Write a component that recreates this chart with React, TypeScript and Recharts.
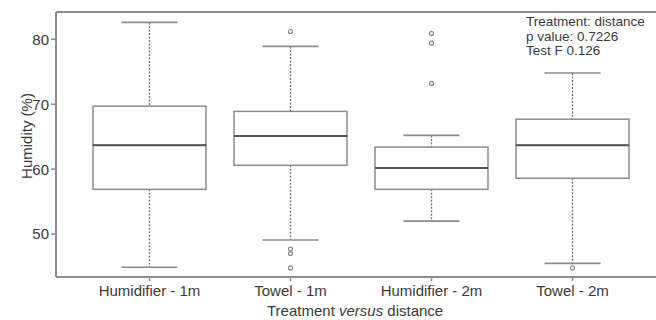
import React from "react";
import { ComposedChart, Bar, Scatter, XAxis, YAxis, ReferenceLine } from "recharts";

const categories = ["Humidifier - 1m", "Towel - 1m", "Humidifier - 2m", "Towel - 2m"];
const lowerWhisker = [44.9, 49.1, 52.0, 45.5];
const q1 = [56.9, 60.6, 56.9, 58.6];
const median = [63.7, 65.1, 60.2, 63.7];
const q3 = [69.7, 68.9, 63.4, 67.7];
const upperWhisker = [82.6, 78.9, 65.2, 74.8];
// outliers per category (up to four each)
const outliers1 = [null, 81.2, 80.9, 44.8];
const outliers2 = [null, 47.7, 79.4, null];
const outliers3 = [null, 47.0, 73.2, null];
const outliers4 = [null, 44.8, null, null];
const yTicks = [50, 60, 70, 80];
const yMin = 43.4;
const yMax = 84.2;

const FONT = "'Liberation Sans', Arial, sans-serif";
const LINE = "#8c8c8c";
const TEXT = "#3a3a3a";

const rows = categories.map((name, i) => ({
  name,
  base: lowerWhisker[i],
  lowW: q1[i] - lowerWhisker[i],
  boxLo: median[i] - q1[i],
  boxHi: q3[i] - median[i],
  highW: upperWhisker[i] - q3[i],
  o1: outliers1[i],
  o2: outliers2[i],
  o3: outliers3[i],
  o4: outliers4[i],
}));

const LowWhisker = (p: any) => {
  const cx = p.x + p.width / 2;
  const bottom = p.y + p.height;
  return (
    <g>
      <line x1={cx} x2={cx} y1={p.y} y2={bottom} stroke="#707070" strokeWidth={1.3} strokeDasharray="2 1.5" />
      <line x1={cx - 28} x2={cx + 28} y1={bottom} y2={bottom} stroke={LINE} strokeWidth={1.6} />
    </g>
  );
};

const HighWhisker = (p: any) => {
  const cx = p.x + p.width / 2;
  return (
    <g>
      <line x1={cx} x2={cx} y1={p.y} y2={p.y + p.height} stroke="#707070" strokeWidth={1.3} strokeDasharray="2 1.5" />
      <line x1={cx - 28} x2={cx + 28} y1={p.y} y2={p.y} stroke={LINE} strokeWidth={1.6} />
    </g>
  );
};

const BoxLower = (p: any) => (
  <rect x={p.x} y={p.y} width={p.width} height={p.height} fill="#fff" stroke={LINE} strokeWidth={1.5} />
);

const BoxUpper = (p: any) => (
  <g>
    <rect x={p.x} y={p.y} width={p.width} height={p.height} fill="#fff" stroke={LINE} strokeWidth={1.5} />
    <line x1={p.x} x2={p.x + p.width} y1={p.y + p.height} y2={p.y + p.height} stroke="#555" strokeWidth={2} />
  </g>
);

const Outlier = (p: any) => {
  if (!Number.isFinite(p.cx) || !Number.isFinite(p.cy)) return <g />;
  return <circle cx={p.cx} cy={p.cy} r={2} fill="#fff" stroke="#888" strokeWidth={1.2} />;
};

export default function App() {
  return (
    <div style={{ position: "absolute", left: 0, top: 0, width: 656, height: 320, overflow: "hidden", background: "#fff", fontFamily: FONT }}>
      <ComposedChart
        width={672}
        height={320}
        data={rows}
        margin={{ top: 12, right: 6, bottom: 0, left: 0 }}
        barCategoryGap={0}
      >
        <XAxis
          dataKey="name"
          padding={{ left: 23, right: 23 }}
          height={43}
          tickSize={4}
          tickLine={{ stroke: LINE, strokeWidth: 1.5 }}
          axisLine={{ stroke: LINE, strokeWidth: 2 }}
          tick={{ fill: TEXT, fontSize: 15, fontFamily: FONT }}
          tickMargin={4}
          interval={0}
        />
        <YAxis
          width={56}
          type="number"
          domain={[yMin, yMax]}
          allowDataOverflow
          ticks={yTicks}
          tickSize={5}
          tickLine={{ stroke: LINE, strokeWidth: 1.5 }}
          axisLine={{ stroke: LINE, strokeWidth: 2 }}
          tick={{ fill: TEXT, fontSize: 15, fontFamily: FONT }}
          tickMargin={2}
        />
        <ReferenceLine y={yMax} stroke={LINE} strokeWidth={2} ifOverflow="visible" />
        <Bar dataKey="base" stackId="b" fill="none" barSize={113} isAnimationActive={false} />
        <Bar dataKey="lowW" stackId="b" shape={LowWhisker} barSize={113} isAnimationActive={false} />
        <Bar dataKey="boxLo" stackId="b" shape={BoxLower} barSize={113} isAnimationActive={false} />
        <Bar dataKey="boxHi" stackId="b" shape={BoxUpper} barSize={113} isAnimationActive={false} />
        <Bar dataKey="highW" stackId="b" shape={HighWhisker} barSize={113} isAnimationActive={false} />
        <Scatter dataKey="o1" shape={Outlier} isAnimationActive={false} />
        <Scatter dataKey="o2" shape={Outlier} isAnimationActive={false} />
        <Scatter dataKey="o3" shape={Outlier} isAnimationActive={false} />
        <Scatter dataKey="o4" shape={Outlier} isAnimationActive={false} />
      </ComposedChart>
      <div
        style={{
          position: "absolute",
          left: 26,
          top: 136,
          transform: "translate(-50%, -50%) rotate(-90deg)",
          whiteSpace: "nowrap",
          fontSize: 15,
          color: TEXT,
        }}
      >
        Humidity (%)
      </div>
      <div style={{ position: "absolute", left: 267, top: 303, whiteSpace: "nowrap", fontSize: 15, lineHeight: "16px", color: TEXT }}>
        Treatment <i>versus</i> distance
      </div>
      <div style={{ position: "absolute", left: 526, top: 15, fontSize: 13.5, lineHeight: "14.5px", color: TEXT }}>
        <div>Treatment: distance</div>
        <div>p value: 0.7226</div>
        <div>Test F 0.126</div>
      </div>
    </div>
  );
}
